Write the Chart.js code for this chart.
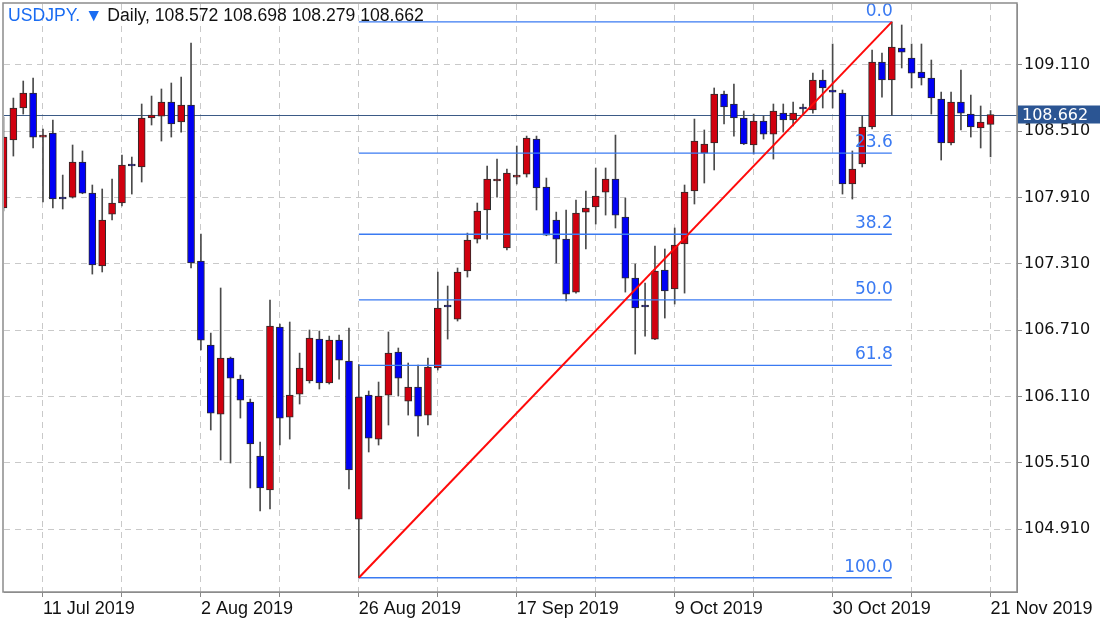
<!DOCTYPE html>
<html>
<head>
<meta charset="utf-8">
<style>
  html, body { margin: 0; padding: 0; background: #fff; }
  #wrap { position: relative; width: 1100px; height: 619px; }
  #header {
    position: absolute; left: 8px; top: 5px;
    font: 17.6px "Liberation Sans", Arial, sans-serif; color: #111; white-space: nowrap;
  }
  #header .sym { color: #1a6cf2; }
</style>
<script src="https://cdn.jsdelivr.net/npm/chart.js@4.4.0/dist/chart.umd.min.js"></script>
</head>
<body>
<div id="wrap">
  <canvas id="chart" width="1100" height="619"></canvas>
  <div id="header"><span class="sym">USDJPY. ▼</span> Daily, 108.572 108.698 108.279 108.662</div>
</div>
<script>
// daily OHLC, one entry per bar (bar 4 = 11 Jul 2019, bar 100 = 21 Nov 2019)
const openPrices = [
  107.816, 108.431, 108.721, 108.856, 108.458, 108.494, 107.906, 107.915, 108.232, 107.951,
  107.291, 107.761, 107.861, 108.214, 108.187, 108.630, 108.648, 108.775, 108.594, 108.748,
  107.336, 106.576, 105.951, 106.458, 106.268, 106.060, 105.571, 105.264, 106.739, 105.924,
  106.132, 106.250, 106.630, 106.232, 106.621, 106.431, 105.001, 106.123, 105.725, 106.123,
  106.513, 106.069, 106.196, 105.942, 106.368, 106.938, 106.811, 107.246, 107.535, 107.798,
  108.060, 107.454, 108.096, 108.123, 108.440, 108.006, 107.707, 107.535, 107.055, 107.779,
  107.825, 107.960, 108.078, 107.734, 107.182, 106.925, 106.630, 107.255, 107.083, 107.490,
  107.970, 108.313, 108.404, 108.847, 108.757, 108.630, 108.386, 108.603, 108.485, 108.675,
  108.612, 108.715, 108.703, 108.974, 108.884, 108.856, 108.033, 108.214, 108.549, 109.137,
  108.974, 109.264, 109.173, 109.046, 108.992, 108.802, 108.404, 108.775, 108.666, 108.540,
  108.572
];
const highPrices = [
  108.639, 108.811, 108.965, 108.992, 108.531, 108.612, 108.114, 108.386, 108.332, 108.024,
  107.988, 108.078, 108.295, 108.277, 108.757, 108.829, 108.893, 108.947, 109.001, 109.309,
  107.580, 106.684, 107.092, 106.467, 106.304, 106.087, 105.698, 106.983, 106.766, 106.784,
  106.503, 106.712, 106.703, 106.657, 106.666, 106.730, 106.400, 106.160, 106.241, 106.694,
  106.549, 106.413, 106.395, 106.458, 107.236, 107.110, 107.273, 107.589, 107.861, 108.196,
  108.259, 108.169, 108.377, 108.467, 108.467, 108.087, 107.779, 107.798, 107.888, 107.970,
  108.178, 108.178, 108.476, 107.906, 107.309, 107.137, 107.472, 107.445, 107.635, 108.024,
  108.621, 108.522, 108.902, 108.874, 108.938, 108.694, 108.666, 108.648, 108.757, 108.757,
  108.775, 108.757, 109.037, 109.065, 109.300, 108.884, 108.332, 108.648, 109.246, 109.218,
  109.500, 109.472, 109.300, 109.300, 109.155, 108.865, 108.865, 109.065, 108.838, 108.739,
  108.698
];
const lowPrices = [
  107.789, 108.286, 108.666, 108.359, 107.870, 107.816, 107.807, 107.906, 107.945, 107.218,
  107.237, 107.707, 107.834, 107.942, 108.051, 108.567, 108.422, 108.458, 108.503, 107.273,
  106.531, 105.807, 105.535, 105.508, 105.915, 105.282, 105.074, 105.092, 105.671, 105.725,
  106.042, 106.232, 106.178, 106.223, 106.268, 105.273, 104.470, 105.608, 105.671, 105.852,
  106.114, 105.942, 105.752, 105.852, 106.350, 106.630, 106.793, 107.191, 107.499, 107.535,
  107.915, 107.436, 108.033, 108.096, 107.798, 107.565, 107.318, 106.974, 107.046, 107.445,
  107.671, 107.752, 107.635, 107.055, 106.494, 106.657, 106.625, 106.820, 106.947, 107.046,
  107.852, 108.042, 108.160, 108.576, 108.467, 108.390, 108.304, 108.440, 108.259, 108.503,
  108.558, 108.666, 108.675, 108.721, 108.721, 107.942, 107.897, 108.187, 108.531, 108.820,
  108.657, 109.083, 108.902, 108.929, 108.666, 108.250, 108.386, 108.522, 108.458, 108.359,
  108.279
];
const closePrices = [
  108.458, 108.721, 108.856, 108.458, 108.476, 107.897, 107.897, 108.232, 107.951, 107.300,
  107.707, 107.861, 108.205, 108.196, 108.630, 108.657, 108.775, 108.576, 108.748, 107.318,
  106.621, 105.960, 106.458, 106.277, 106.078, 105.680, 105.282, 106.748, 105.915, 106.123,
  106.368, 106.639, 106.232, 106.621, 106.440, 105.445, 106.105, 105.734, 106.114, 106.503,
  106.277, 106.196, 105.933, 106.377, 106.911, 106.920, 107.236, 107.526, 107.789, 108.078,
  108.078, 108.132, 108.114, 108.449, 107.997, 107.571, 107.535, 107.037, 107.770, 107.816,
  107.924, 108.078, 107.752, 107.182, 106.911, 106.920, 107.246, 107.065, 107.481, 107.960,
  108.422, 108.395, 108.847, 108.730, 108.630, 108.395, 108.603, 108.485, 108.694, 108.612,
  108.675, 108.712, 108.974, 108.902, 108.865, 108.033, 108.169, 108.549, 109.137, 108.974,
  109.273, 109.227, 109.037, 108.992, 108.811, 108.404, 108.775, 108.675, 108.549, 108.594,
  108.662
];

// date labels on the time axis (bar index -> text)
const dateTickIndex = [4, 20, 36, 52, 68, 84, 100];
const dateTickText = ["11 Jul 2019", "2 Aug 2019", "26 Aug 2019", "17 Sep 2019", "9 Oct 2019", "30 Oct 2019", "21 Nov 2019"];
const gridIndex = [4, 12, 20, 28, 36, 44, 52, 60, 68, 76, 84, 92, 100];

// price axis
const priceTicks = [104.91, 105.51, 106.11, 106.71, 107.31, 107.91, 108.51, 109.11];

// fibonacci retracement from the 26 Aug low (bar 36) to the 30 Oct high (bar 90)
const fibStart = 36;
const fibEnd = 90;
const fibLevels = [0, 23.6, 38.2, 50, 61.8, 100];

const UP = "#d0000f";
const DOWN = "#0000f5";
const FIB = "#3a7af2";

const fibHigh = highPrices[fibEnd];
const fibLow = lowPrices[fibStart];
const fibPrice = (lvl) => fibHigh - (lvl / 100) * (fibHigh - fibLow);

const barIdx = openPrices.map((_, i) => i);
const isUp = barIdx.map((i) => closePrices[i] >= openPrices[i]);

const fibDatasets = fibLevels.map((lvl) => ({
  type: "line",
  data: [{ x: fibStart, y: fibPrice(lvl) }, { x: fibEnd, y: fibPrice(lvl) }],
  borderColor: FIB,
  borderWidth: 1.3,
  pointRadius: 0
}));

const datasets = [
  {
    type: "line",
    data: [{ x: fibStart, y: fibLow }, { x: fibEnd, y: fibHigh }],
    borderColor: "#ff0a0a",
    borderWidth: 2,
    pointRadius: 0
  },
  ...fibDatasets,
  {
    // bodies
    type: "bar",
    data: barIdx.map((i) => ({ x: i, y: [openPrices[i], closePrices[i]] })),
    backgroundColor: isUp.map((u) => (u ? UP : DOWN)),
    borderColor: "#2a2a2a",
    borderWidth: 1,
    borderSkipped: false,
    barThickness: 7,
    minBarLength: 2,
    grouped: false
  },
  {
    // wicks
    type: "bar",
    data: barIdx.map((i) => ({ x: i, y: [lowPrices[i], highPrices[i]] })),
    backgroundColor: "#4a4a4a",
    borderWidth: 0,
    barThickness: 1,
    grouped: false
  }
];

const extras = {
  id: "extras",
  beforeDatasetsDraw(chart) {
    const { ctx, chartArea, scales } = chart;
    const y = Math.round(scales.y.getPixelForValue(closePrices[closePrices.length - 1])) + 0.5;
    ctx.save();
    ctx.strokeStyle = "#3b5a86";
    ctx.lineWidth = 1;
    ctx.beginPath();
    ctx.moveTo(chartArea.left, y);
    ctx.lineTo(chartArea.right, y);
    ctx.stroke();
    ctx.restore();
  },
  afterDatasetsDraw(chart) {
    const { ctx, scales } = chart;
    const xr = scales.x.getPixelForValue(fibEnd) + 1;
    ctx.save();
    ctx.fillStyle = FIB;
    ctx.font = '17px "DejaVu Sans", sans-serif';
    ctx.textAlign = "right";
    ctx.textBaseline = "bottom";
    fibLevels.forEach((lvl) => {
      const y = scales.y.getPixelForValue(fibPrice(lvl));
      ctx.fillText(lvl.toFixed(1), xr, y - 2);
    });
    ctx.restore();
  },
  afterDraw(chart) {
    const { ctx, chartArea, scales } = chart;
    ctx.save();
    // frame
    ctx.strokeStyle = "#8c8c8c";
    ctx.lineWidth = 1.5;
    ctx.strokeRect(chartArea.left - 1, chartArea.top - 1, chartArea.right - chartArea.left + 1, chartArea.bottom - chartArea.top + 1);
    // last price tag
    const last = closePrices[closePrices.length - 1];
    const y = scales.y.getPixelForValue(last);
    ctx.fillStyle = "#2b5593";
    ctx.fillRect(chartArea.right + 1, y - 9, 82, 18);
    ctx.fillStyle = "#fff";
    ctx.font = '16px "DejaVu Sans", sans-serif';
    ctx.textBaseline = "middle";
    ctx.fillText(last.toFixed(3), chartArea.right + 5, y + 1);
    ctx.restore();
  }
};

new Chart(document.getElementById("chart"), {
  type: "bar",
  data: { datasets },
  plugins: [extras],
  options: {
    responsive: false,
    animation: false,
    layout: { padding: { left: 4, top: 4, right: 0, bottom: 0 } },
    plugins: { legend: { display: false }, tooltip: { enabled: false } },
    scales: {
      x: {
        type: "linear",
        min: 0.0507,
        max: 102.68,
        offset: false,
        afterBuildTicks: (scale) => {
          scale.ticks = gridIndex.map((v) => ({ value: v }));
        },
        afterFit: (scale) => {
          scale.height = 27;
          scale.paddingLeft = 0;
          scale.paddingRight = 0;
        },
        grid: { offset: false, color: "#c9c9c9", tickLength: 5, tickColor: "#888" },
        border: { display: true, color: "#8c8c8c", dash: [6, 5] },
        ticks: {
          autoSkip: false,
          maxRotation: 0,
          align: "start",
          padding: 1,
          color: "#111",
          font: { family: '"Liberation Sans", Arial, sans-serif', size: 18 },
          callback: (v) => {
            const k = dateTickIndex.indexOf(v);
            return k >= 0 ? dateTickText[k] : "";
          }
        }
      },
      y: {
        type: "linear",
        position: "right",
        min: 104.341,
        max: 109.662,
        beginAtZero: false,
        afterBuildTicks: (scale) => {
          scale.ticks = priceTicks.map((v) => ({ value: v }));
        },
        afterFit: (scale) => {
          scale.width = 83;
          scale.paddingTop = 0;
          scale.paddingBottom = 0;
        },
        grid: { color: "#c9c9c9", tickLength: 5, tickColor: "#888" },
        border: { display: true, color: "#8c8c8c", dash: [6, 5] },
        ticks: {
          autoSkip: false,
          padding: 2,
          color: "#111",
          font: { family: '"DejaVu Sans", sans-serif', size: 16 },
          callback: (v) => v.toFixed(3)
        }
      }
    }
  }
});
</script>
</body>
</html>
